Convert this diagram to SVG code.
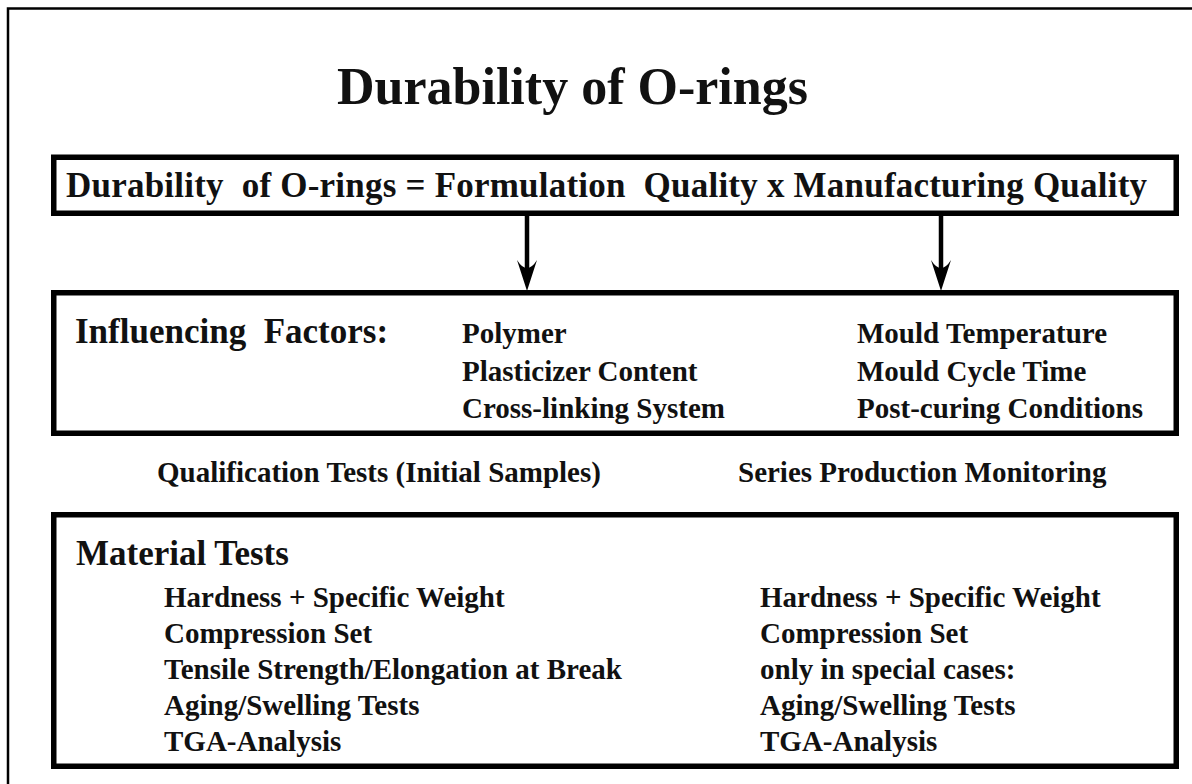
<svg xmlns="http://www.w3.org/2000/svg" width="1192" height="784" viewBox="0 0 1192 784">
<defs>
<style>
text{font-family:"Liberation Serif","Times New Roman",serif;font-weight:bold;fill:#111}
.pre{white-space:pre}
.box{fill:none;stroke:#000;stroke-width:5.5}
.frame{fill:none;stroke:#000;stroke-width:2.5}
.conn{stroke:#000;stroke-width:4.5;fill:none}
.head{fill:#000}
.t52{font-size:52px}
.t35{font-size:35px}
.t29{font-size:29px}
</style>
</defs>
<rect width="1192" height="784" fill="#fff"/>
<path class="frame" d="M8 790 V8.5 H1200"/>
<text id="title" class="t52" x="337" y="104">Durability of O-rings</text>
<g id="formula">
<rect class="box" x="53.75" y="157.25" width="1122.5" height="56"/>
<text class="t35 pre" x="66" y="197" textLength="1081" lengthAdjust="spacing">Durability  of O-rings = Formulation  Quality x Manufacturing Quality</text>
</g>
<g id="connectors">
<line class="conn" x1="527" y1="216" x2="527" y2="268"/>
<path class="head" d="M527 291 L517 260 Q522 268 527 268 Q532 268 537 260 Z"/>
<line class="conn" x1="941" y1="216" x2="941" y2="268"/>
<path class="head" d="M941 291 L931 260 Q936 268 941 268 Q946 268 951 260 Z"/>
</g>
<g id="factors">
<rect class="box" x="53.75" y="292.75" width="1122.5" height="140.5"/>
<text class="t35 pre" x="75" y="343">Influencing  Factors:</text>
<text class="t29" x="462" y="343">Polymer</text>
<text class="t29" x="462" y="381">Plasticizer Content</text>
<text class="t29" x="462" y="418">Cross-linking System</text>
<text class="t29" x="857" y="343">Mould Temperature</text>
<text class="t29" x="857" y="381">Mould Cycle Time</text>
<text class="t29" x="857" y="418">Post-curing Conditions</text>
</g>
<g id="qualification">
<text class="t29" x="157" y="482">Qualification Tests (Initial Samples)</text>
</g>
<g id="series">
<text class="t29" x="738" y="482">Series Production Monitoring</text>
</g>
<g id="tests">
<rect class="box" x="53.75" y="514.75" width="1122.5" height="251.5"/>
<text class="t35" x="76" y="565">Material Tests</text>
<text class="t29" x="164" y="607">Hardness + Specific Weight</text>
<text class="t29" x="164" y="643">Compression Set</text>
<text class="t29" x="164" y="679">Tensile Strength/Elongation at Break</text>
<text class="t29" x="164" y="715">Aging/Swelling Tests</text>
<text class="t29" x="164" y="751">TGA-Analysis</text>
<text class="t29" x="760" y="607">Hardness + Specific Weight</text>
<text class="t29" x="760" y="643">Compression Set</text>
<text class="t29" x="760" y="679">only in special cases:</text>
<text class="t29" x="760" y="715">Aging/Swelling Tests</text>
<text class="t29" x="760" y="751">TGA-Analysis</text>
</g>
</svg>
